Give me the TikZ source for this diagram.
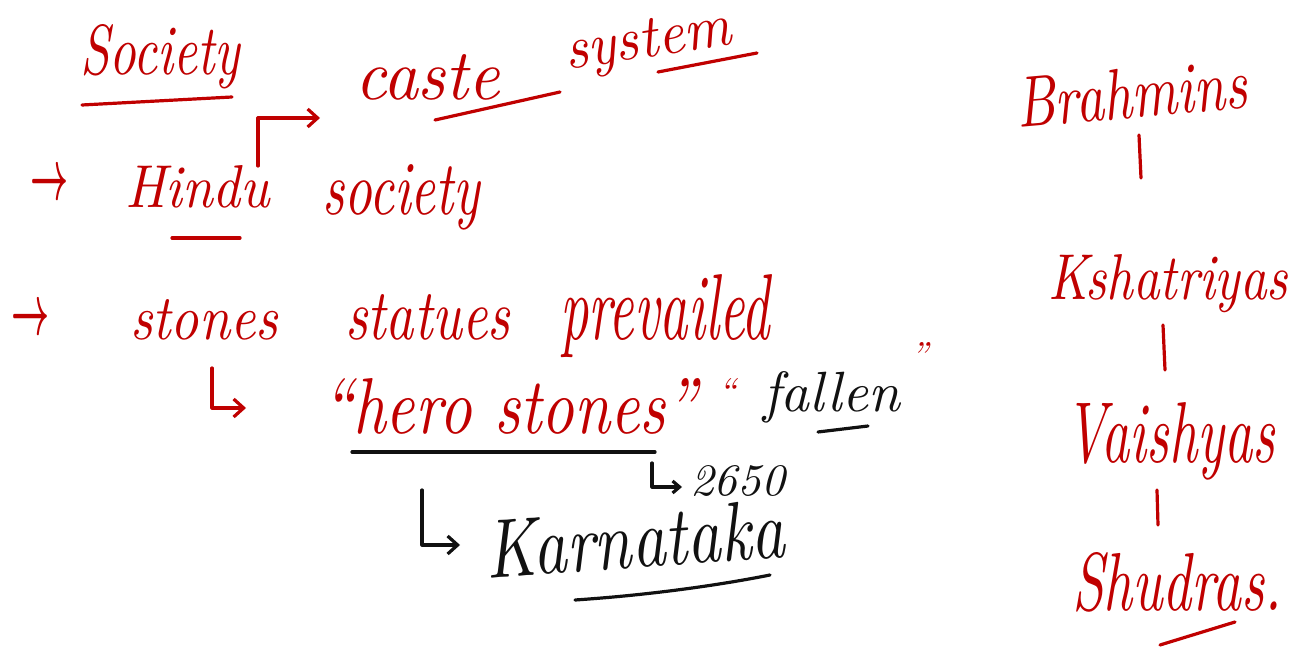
\documentclass[tikz,border=0pt]{standalone}
\usetikzlibrary{arrows.meta}
\definecolor{ink}{RGB}{192,0,0}
\definecolor{pen}{RGB}{17,17,17}
\newcommand{\hw}[3]{\resizebox{#1pt}{#2pt}{\itshape #3}}
\begin{document}
\begin{tikzpicture}[x=1pt,y=-1pt,
  word/.style={anchor=base west, inner sep=0pt, outer sep=0pt, text=ink},
  bword/.style={word, text=pen},
  stroke/.style={draw=ink, line width=3.2pt, line cap=round, line join=round},
  bstroke/.style={stroke, draw=pen},
  tip/.style={-{Straight Barb[length=10pt,width=18pt]}},
  stip/.style={-{Straight Barb[length=7pt,width=12pt]}}
]
\fill[white] (0,0) rectangle (1302,652);
\useasboundingbox (0,0) rectangle (1302,652);

% left column
\node[word] (society) at (80,75) {\hw{160}{50}{Society}};
\node[word] (caste) at (355,100) {\hw{145}{45}{caste}};
\node[word, rotate=9] (system) at (567,70) {\hw{168}{38}{system}};
\node[word] (b1) at (30,200) {\hw{38}{28}{\boldmath$\rightarrow$}};
\node[word] (hindu) at (125,208) {\hw{145}{42}{Hindu}};
\node[word] (hsociety) at (322,215) {\hw{158}{50}{society}};
\node[word] (b2) at (12,335) {\hw{38}{28}{\boldmath$\rightarrow$}};
\node[word] (stones) at (130,340) {\hw{148}{40}{stones}};
\node[word] (statues) at (345,340) {\hw{165}{45}{statues}};
\node[word] (prevailed) at (560,340) {\hw{210}{65}{prevailed}};
\node[word] (hero) at (322,433) {\hw{375}{55}{``hero stones''}};
\node[word] (oq) at (718,403) {\hw{18}{25}{``}};
\node[bword] (fallen) at (763,412) {\hw{137}{40}{fallen}};
\node[word] (cq) at (910,367) {\hw{18}{25}{''}};
\node[bword] (year) at (690,495) {\hw{95}{30}{2650}};
\node[bword, rotate=4] (karnataka) at (487,578) {\hw{300}{58}{Karnataka}};

% right column
\node[word, rotate=5] (brahmins) at (1018,128) {\hw{232}{50}{Brahmins}};
\node[word] (kshatriyas) at (1048,300) {\hw{240}{45}{Kshatriyas}};
\node[word] (vaishyas) at (1065,462) {\hw{210}{60}{Vaishyas}};
\node[word] (shudras) at (1072,610) {\hw{210}{58}{Shudras.}};

% connectors
\coordinate (hk) at (258,166);
\coordinate (ck) at (320,118);
\draw[stroke,tip] (hk) |- (ck);
\coordinate (k1) at (212,368);
\coordinate (k1e) at (246,408);
\draw[stroke,tip] (k1) |- (k1e);
\coordinate (k2) at (652,463);
\coordinate (k2e) at (682,487);
\draw[bstroke,stip] (k2) |- (k2e);
\coordinate (k3) at (422,490);
\coordinate (k3e) at (460,545);
\draw[bstroke,tip] (k3) |- (k3e);

\draw[stroke] (brahmins.base west) ++(121,7) -- ++(2,43);
\draw[stroke] (kshatriyas.base west) ++(115,25) -- ++(2,45);
\draw[stroke] (vaishyas.base west) ++(92,28) -- ++(1,35);

% underlines
\draw[stroke] (82,105) -- (232,97);
\draw[stroke] (435,120) -- (560,92);
\draw[stroke] (658,72) -- (757,53);
\draw[stroke] (172,238) -- (240,238);
\draw[bstroke] (352,452) -- (655,452);
\draw[bstroke] (818,432) -- (868,426);
\draw[bstroke] (575,600) .. controls (650,595) and (720,585) .. (770,575);
\draw[stroke] (1160,645) -- (1235,622);
\end{tikzpicture}
\end{document}
